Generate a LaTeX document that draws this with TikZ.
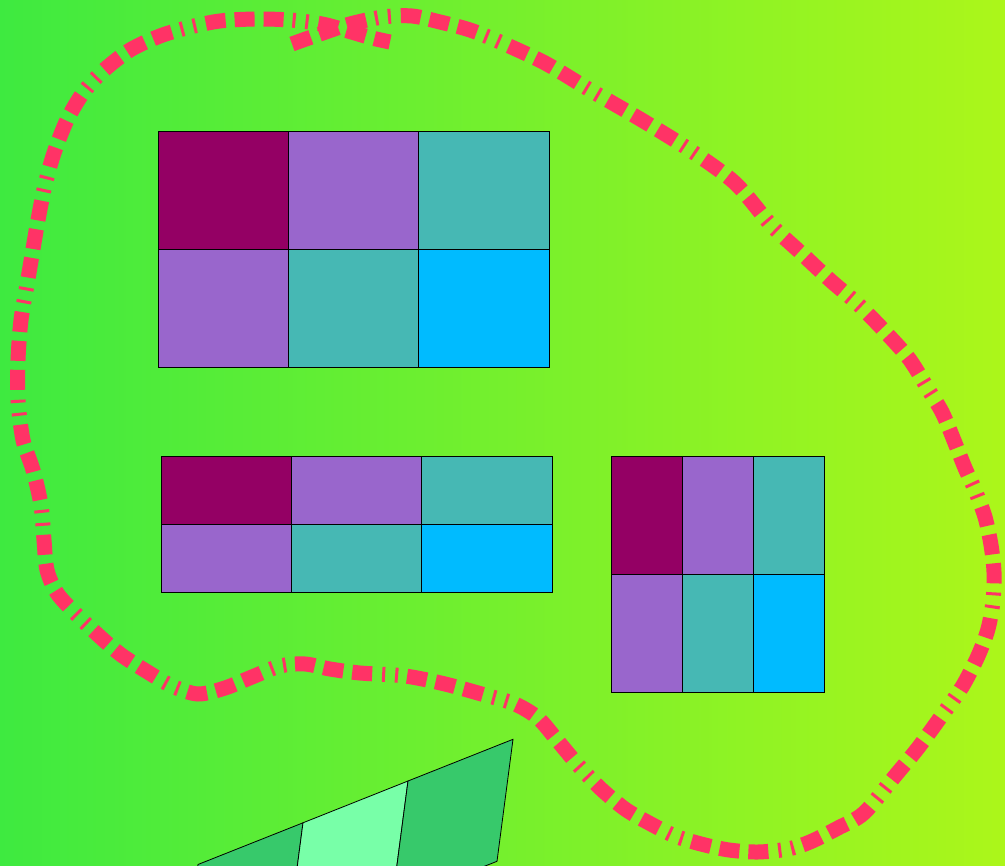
\documentclass[tikz,border=0pt]{standalone}
\usetikzlibrary{calc}
\definecolor{bgL}{RGB}{62,234,64}
\definecolor{bgM}{RGB}{100,238,52}
\definecolor{bgR}{RGB}{172,246,26}
\definecolor{plum}{RGB}{148,0,100}
\definecolor{amethyst}{RGB}{153,102,204}
\definecolor{tealc}{RGB}{70,184,180}
\definecolor{skyc}{RGB}{0,187,255}
\definecolor{pinkc}{RGB}{255,51,102}
\definecolor{darkg}{RGB}{55,201,107}
\definecolor{lightg}{RGB}{120,255,168}
\tikzset{
  cell/.style={draw=black, line width=0.8pt, inner sep=0pt, outer sep=0pt, anchor=north west},
  pinkdash/.style={draw=pinkc, line width=15pt, line cap=butt,
    dash pattern=on 20pt off 9pt on 20pt off 9pt on 20pt off 9pt on 3pt off 10pt on 3pt off 10pt},
  skewcell/.style={draw=black, line width=0.8pt, line join=miter}
}
\begin{document}
\begin{tikzpicture}[x=1pt,y=-1pt]
\useasboundingbox (0,0) rectangle (1005,866);
\fill[left color=bgL, middle color=bgM, right color=bgR] (0,0) rectangle (1005,866);
% grid 1
\foreach \c/\r/\col [count=\i] in {0/0/plum,1/0/amethyst,2/0/tealc,0/1/amethyst,1/1/tealc,2/1/skyc}
  \node[cell, fill=\col, minimum width=130.33pt, minimum height=118pt] (ga\i) at (158+130.33*\c, 131+118*\r) {};
% grid 2
\foreach \c/\r/\col [count=\i] in {0/0/plum,1/0/amethyst,2/0/tealc,0/1/amethyst,1/1/tealc,2/1/skyc}
  \node[cell, fill=\col, minimum width=130.33pt, minimum height=68pt] (gb\i) at (161+130.33*\c, 456+68*\r) {};
% grid 3
\foreach \c/\r/\col [count=\i] in {0/0/plum,1/0/amethyst,2/0/tealc,0/1/amethyst,1/1/tealc,2/1/skyc}
  \node[cell, fill=\col, minimum width=71pt, minimum height=118pt] (gc\i) at (611+71*\c, 456+118*\r) {};
% skewed strip
\begin{scope}
\clip (0,0) rectangle (1005,866);
\coordinate (t0) at (198,864.5);
\coordinate (t1) at (303,822.8);
\coordinate (t2) at (408,781);
\coordinate (t3) at (513,739.3);
\filldraw[skewcell, fill=darkg] (t0) -- (t1) -- ($(t1)+(-16,122)$) -- ($(t0)+(-16,122)$) -- cycle;
\filldraw[skewcell, fill=lightg] (t1) -- (t2) -- ($(t2)+(-16,122)$) -- ($(t1)+(-16,122)$) -- cycle;
\filldraw[skewcell, fill=darkg] (t2) -- (t3) -- ($(t3)+(-16,122)$) -- ($(t2)+(-16,122)$) -- cycle;
\end{scope}
% dashed loop
\draw[pinkdash] plot[smooth, tension=0.5] coordinates {
(292,44) (320,34) (350,24) (383,17) (412,16) (440,22) (470,30) (500,42)
(545,63) (590,90) (640,119) (690,150) (735,183) (771,225) (800,252)
(830,280) (860,306) (890,337) (910,360) (928,389) (942,412) (953,438)
(965,468) (975,490) (985,517) (991,545) (994,572) (993,601) (988,629)
(978,656) (962,687) (940,718) (918,748) (895,776) (864,813) (838,828)
(810,842) (788,849) (758,852) (729,850) (701,844) (675,836) (649,823)
(625,809) (600,788) (578,765) (557,740) (538,718) (515,704) (485,695)
(445,684) (405,676) (360,673) (330,669) (305,664) (280,666) (252,677)
(225,688) (198,694) (172,686) (146,671) (120,654) (97,634) (75,613)
(57,593) (47,570) (44,540) (41,505) (33,470) (23,440) (18,400) (18,360)
(21,320) (27,285) (32,255) (38,220) (45,185) (54,153) (67,120) (83,93)
(103,71) (130,50) (160,36) (190,27) (220,21) (255,19) (290,20) (322,24)
(348,31) (372,38) (390,42)};
\end{tikzpicture}
\end{document}
